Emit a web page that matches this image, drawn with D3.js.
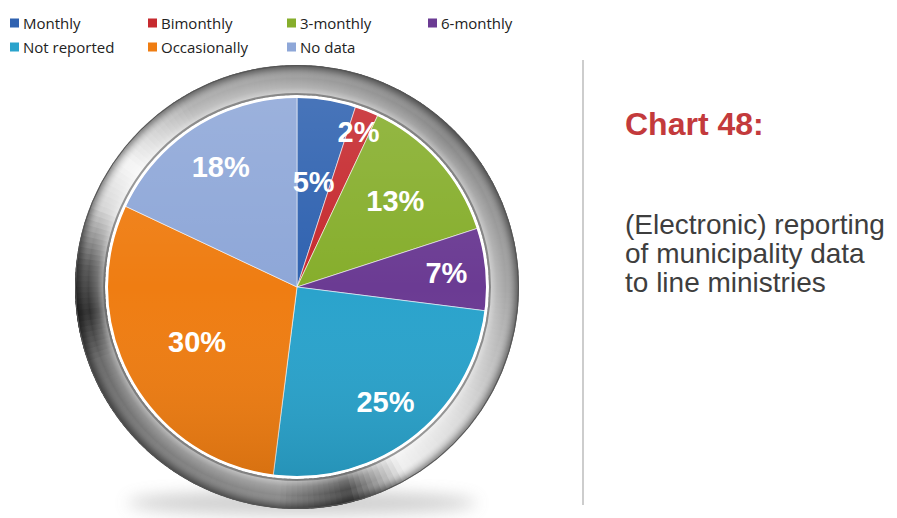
<!DOCTYPE html>
<html><head><meta charset="utf-8">
<script src="https://cdn.jsdelivr.net/npm/d3@7/dist/d3.min.js"></script>
<style>
html,body{margin:0;padding:0;background:#fff;}
svg{display:block;}
</style></head>
<body>
<svg id="chart" width="897" height="518"></svg>
<script>
// ---- data ----
const categories = ["Monthly","Bimonthly","3-monthly","6-monthly","Not reported","Occasionally","No data"];
const values = [5, 2, 13, 7, 25, 30, 18];
const colors = ["#2f62b0","#c62a2f","#86ae2c","#6b3b93","#2aa3cc","#ef7d12","#8ea7d8"];
const titleText = "Chart 48:";
const descLines = ["(Electronic) reporting","of municipality data","to line ministries"];

// ---- layout (not data) ----
const W = 897, H = 518;
const cx = 297, cy = 287, R = 190, ringR = 222;
const labelFactor = [0.56, 0.88, 0.69, 0.79, 0.76, 0.6, 0.75];

const svg = d3.select("#chart");
const defs = svg.append("defs");

defs.append("filter").attr("id","blur").attr("x","-50%").attr("y","-50%").attr("width","200%").attr("height","200%")
  .append("feGaussianBlur").attr("stdDeviation", 8);

// bevel overlay gradient (in ring group coordinates)
const rg = defs.append("radialGradient").attr("id","bevel")
  .attr("gradientUnits","userSpaceOnUse").attr("cx",0).attr("cy",0).attr("r",ringR);
[[0.86,"#fff",0],[0.87,"#fff",0.5],[0.9,"#fff",0.2],[0.94,"#fff",0.0],[0.975,"#000",0.15],[1,"#000",0.45]]
  .forEach(([o,c,a])=>rg.append("stop").attr("offset",o).attr("stop-color",c).attr("stop-opacity",a));

const lg = defs.append("linearGradient").attr("id","pieShade").attr("x1",0).attr("y1",0).attr("x2",0).attr("y2",1);
[[0,"#fff",0.12],[0.5,"#fff",0],[1,"#000",0.10]]
  .forEach(([o,c,a])=>lg.append("stop").attr("offset",o).attr("stop-color",c).attr("stop-opacity",a));

// ---- legend ----
const legendCols = [10, 148, 287, 428];
const legendRows = [23, 47];
const legend = svg.append("g").attr("font-family","'Open Sans','Liberation Sans',Arial,sans-serif").attr("font-size",15);
categories.forEach((c,i)=>{
  const col = i < 4 ? i : i - 4;
  const row = i < 4 ? 0 : 1;
  const g = legend.append("g").attr("transform",`translate(${legendCols[col]},${legendRows[row]})`);
  g.append("rect").attr("x",0).attr("y",-4.5).attr("width",9).attr("height",9).attr("fill",colors[i]);
  g.append("text").attr("x",13).attr("y",5.5).attr("fill","#222").text(c);
});

// ---- shadow ----
svg.append("ellipse").attr("cx",cx+5).attr("cy",cy+ringR-6).attr("rx",175).attr("ry",12)
  .attr("fill","#888").attr("opacity",0.4).attr("filter","url(#blur)");

// ---- metallic ring (decorative) ----
const ringStops = [[0,"#a0a0a0"],[45,"#8a8a8a"],[90,"#a6a6a6"],[130,"#dcdcdc"],[150,"#f0f0f0"],[166,"#4a4a4a"],[185,"#8c8c8c"],
  [225,"#7c7c7c"],[250,"#6a6a6a"],[263,"#2e2e2e"],[276,"#5a5a5a"],[292,"#d6d6d6"],[306,"#f6f6f6"],[330,"#b2b2b2"],[360,"#a0a0a0"]];
const ringColor = d3.scaleLinear().domain(ringStops.map(d=>d[0])).range(ringStops.map(d=>d[1])).interpolate(d3.interpolateRgb);
const ringArc = d3.arc().innerRadius(R+2).outerRadius(ringR);
const ringG = svg.append("g").attr("transform",`translate(${cx},${cy})`);
const nSeg = 240;
d3.range(nSeg).forEach(k=>{
  const a0 = k/nSeg*2*Math.PI, a1 = (k+1.6)/nSeg*2*Math.PI;
  ringG.append("path").attr("d", ringArc({startAngle:a0,endAngle:a1}))
    .attr("fill", ringColor((k+0.5)/nSeg*360));
});
ringG.append("circle").attr("r",ringR).attr("fill","url(#bevel)");
ringG.append("circle").attr("r",ringR-0.5).attr("fill","none").attr("stroke","#555").attr("stroke-width",1);
ringG.append("circle").attr("r",R+3).attr("fill","none").attr("stroke","#5a5a5a").attr("stroke-width",2).attr("opacity",0.6);

// ---- pie ----
const pie = d3.pie().sort(null).value(d=>d);
const arcs = pie(values);
const arc = d3.arc().innerRadius(0).outerRadius(R);
const pieG = svg.append("g").attr("transform",`translate(${cx},${cy})`);
pieG.selectAll("path.slice").data(arcs).join("path").attr("class","slice")
  .attr("d",arc).attr("fill",(d,i)=>colors[i]).attr("stroke","#fff").attr("stroke-width",0.8).attr("stroke-opacity",0.7);
pieG.append("circle").attr("r",R).attr("fill","url(#pieShade)");
pieG.append("circle").attr("r",R).attr("fill","none").attr("stroke","#fff").attr("stroke-width",2);

pieG.selectAll("text.lbl").data(arcs).join("text").attr("class","lbl")
  .attr("transform",(d,i)=>{
    const la = d3.arc().innerRadius(R*labelFactor[i]).outerRadius(R*labelFactor[i]);
    const [x,y] = la.centroid(d);
    return `translate(${x},${y})`;
  })
  .attr("text-anchor","middle").attr("dy","0.36em")
  .attr("font-family","'Liberation Sans',Arial,sans-serif").attr("font-weight","bold").attr("font-size",29)
  .attr("fill","#fff").text(d=>d.data+"%");

// ---- separator ----
svg.append("line").attr("x1",583).attr("x2",583).attr("y1",60).attr("y2",505).attr("stroke","#bdbdbd").attr("stroke-width",1.5);

// ---- title & description ----
svg.append("text").attr("x",625).attr("y",135).attr("font-family","'Liberation Sans',Arial,sans-serif")
  .attr("font-weight","bold").attr("font-size",32).attr("fill","#c33a3c").text(titleText);
svg.append("g").selectAll("text").data(descLines).join("text")
  .attr("x",625).attr("y",(d,i)=>234+i*29)
  .attr("font-family","'Liberation Sans',Arial,sans-serif").attr("font-size",28).attr("fill","#3e3e3e")
  .text(d=>d);
</script>
</body></html>
